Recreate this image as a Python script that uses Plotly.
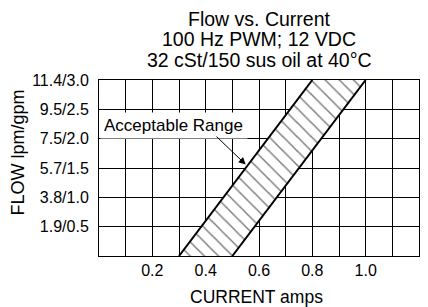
import plotly.graph_objects as go

# ---- data ----
flow_gpm = [0.0, 3.0]                 # band end flows (gpm)
low_current = [0.3, 0.8]              # left edge of acceptable range (amps)
high_current = [0.5, 1.0]             # right edge of acceptable range (amps)

x_tick_vals = [0.2, 0.4, 0.6, 0.8, 1.0, 1.2]
x_tick_text = ["0.2", "0.4", "0.6", "0.8", "1.0", "1.2"]
y_tick_vals = [0.5, 1.0, 1.5, 2.0, 2.5, 3.0]
y_tick_text = ["1.9/0.5", "3.8/1.0", "5.7/1.5", "7.5/2.0", "9.5/2.5", "11.4/3.0"]

title_lines = ["Flow vs. Current", "100 Hz PWM; 12 VDC", "32 cSt/150 sus oil at 40°C"]
x_title = "CURRENT amps"
y_title = "FLOW lpm/gpm"
label_text = "Acceptable Range"
arrow_head = (0.55, 1.56)
arrow_tail = (0.435, 2.06)

FONT = "Arial, Liberation Sans, Helvetica, sans-serif"

fig = go.Figure()

# hatched band polygon
poly_x = low_current + high_current[::-1] + [low_current[0]]
poly_y = flow_gpm + flow_gpm[::-1] + [flow_gpm[0]]
fig.add_trace(go.Scatter(
    x=poly_x, y=poly_y, mode="none", fill="toself",
    fillcolor="white",
    fillpattern=dict(shape="\\", fgcolor="black", bgcolor="white", size=10, solidity=0.15),
    hoverinfo="skip", showlegend=False))
# band edges
for xs in (low_current, high_current):
    fig.add_trace(go.Scatter(x=xs, y=flow_gpm, mode="lines",
                             line=dict(color="black", width=2),
                             showlegend=False, hoverinfo="skip"))

annotations = []
title_y_px = [19, 39.5, 60.5]
plot_top, plot_bot = 80, 256
for txt, py in zip(title_lines, title_y_px):
    annotations.append(dict(text=txt, xref="paper", yref="paper", x=0.5,
                            y=(plot_bot - py) / (plot_bot - plot_top),
                            xanchor="center", yanchor="middle", showarrow=False,
                            font=dict(size=19.5, color="black", family=FONT)))
# axis titles
annotations.append(dict(text=x_title, xref="paper", yref="paper", x=0.493,
                        y=(plot_bot - 296.5) / (plot_bot - plot_top),
                        xanchor="center", yanchor="middle", showarrow=False,
                        font=dict(size=17.5, color="black", family=FONT)))
annotations.append(dict(text=y_title, xref="paper", yref="paper",
                        x=(17 - 99) / 320, y=(plot_bot - 152.5) / (plot_bot - plot_top),
                        xanchor="center", yanchor="middle", showarrow=False, textangle=-90,
                        font=dict(size=18, color="black", family=FONT)))
# label box
annotations.append(dict(text=label_text, xref="paper", yref="y", x=0.003, y=2.23,
                        xanchor="left", yanchor="middle", showarrow=False,
                        align="left", width=140, bgcolor="white", borderpad=3,
                        font=dict(size=17, color="black", family=FONT)))
# arrow
annotations.append(dict(text="", x=arrow_head[0], y=arrow_head[1], xref="x", yref="y",
                        ax=arrow_tail[0], ay=arrow_tail[1], axref="x", ayref="y",
                        showarrow=True, arrowhead=2, arrowsize=1.4, arrowwidth=1,
                        arrowcolor="black"))

fig.update_layout(
    width=428, height=307,
    margin=dict(l=99, r=9, t=80, b=51),
    paper_bgcolor="white", plot_bgcolor="white",
    font=dict(family=FONT, color="black", size=16),
    showlegend=False,
    annotations=annotations,
)
fig.update_xaxes(range=[0, 1.2], tickmode="array", tickvals=x_tick_vals, ticktext=x_tick_text,
                 showgrid=True, gridcolor="black", gridwidth=1,
                 minor=dict(tick0=0, dtick=0.1, showgrid=True, gridcolor="black", gridwidth=1),
                 showline=True, linecolor="black", linewidth=1, mirror=True,
                 zeroline=False, ticks="", tickfont=dict(size=16), fixedrange=True)
fig.update_yaxes(range=[0, 3.0], tickmode="array", tickvals=y_tick_vals, ticktext=y_tick_text,
                 showgrid=True, gridcolor="black", gridwidth=1,
                 showline=True, linecolor="black", linewidth=1, mirror=True,
                 zeroline=False, ticks="", tickfont=dict(size=16), ticklabelstandoff=6,
                 fixedrange=True)

fig.write_html("out.html", config={"displayModeBar": False},
               post_script="document.body.style.margin='0';document.body.style.overflow='hidden';")
